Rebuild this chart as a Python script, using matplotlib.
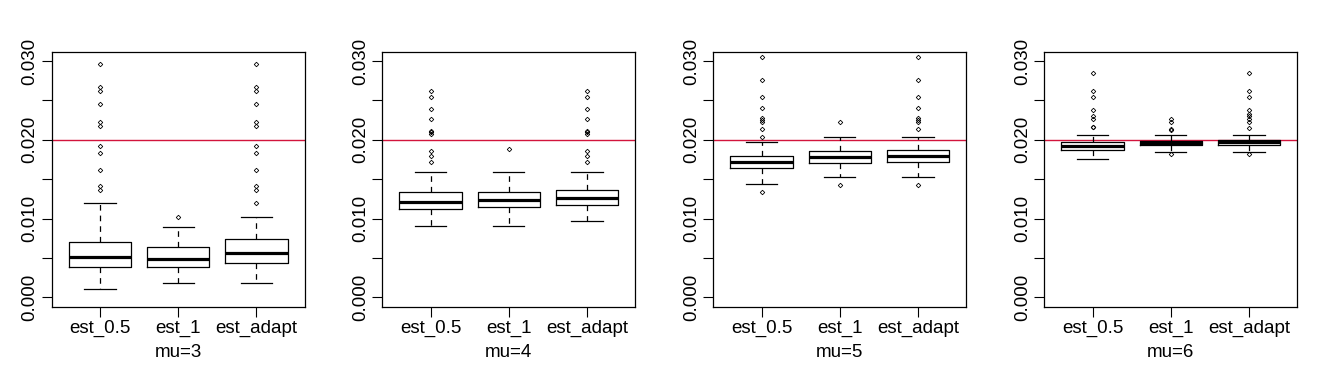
import matplotlib
matplotlib.use("Agg")
import matplotlib.pyplot as plt

plt.rcParams['font.family'] = ['Liberation Sans', 'DejaVu Sans']

groups = ["est_0.5", "est_1", "est_adapt"]
panels = ["mu=3", "mu=4", "mu=5", "mu=6"]

whislo = [[0.00102, 0.00187, 0.00187],
          [0.00909, 0.00900, 0.00973],
          [0.01436, 0.01530, 0.01530],
          [0.01763, 0.01845, 0.01845]]
q1 = [[0.00379, 0.00379, 0.00430],
      [0.01118, 0.01147, 0.01168],
      [0.01641, 0.01705, 0.01717],
      [0.01874, 0.01929, 0.01934]]
med = [[0.00506, 0.00481, 0.00561],
       [0.01207, 0.01232, 0.01262],
       [0.01717, 0.01781, 0.01794],
       [0.01921, 0.01960, 0.01976]]
q3 = [[0.00705, 0.00634, 0.00736],
      [0.01334, 0.01334, 0.01368],
      [0.01794, 0.01858, 0.01870],
      [0.01972, 0.01989, 0.01998]]
whishi = [[0.01195, 0.00888, 0.01016],
          [0.01590, 0.01590, 0.01590],
          [0.01972, 0.02036, 0.02036],
          [0.02062, 0.02062, 0.02062]]

fliers = [
    [[0.01364, 0.01415, 0.01619, 0.01832, 0.01925, 0.02180, 0.02222, 0.02457, 0.02618, 0.02674, 0.02958],
     [0.01024],
     [0.01195, 0.01364, 0.01415, 0.01619, 0.01832, 0.01925, 0.02180, 0.02222, 0.02457, 0.02618, 0.02674, 0.02958]],
    [[0.01721, 0.01789, 0.01853, 0.02080, 0.02095, 0.02108, 0.02266, 0.02393, 0.02546, 0.02627],
     [0.01878],
     [0.01721, 0.01789, 0.01853, 0.02080, 0.02095, 0.02108, 0.02266, 0.02393, 0.02546, 0.02627]],
    [[0.01343, 0.02036, 0.02142, 0.02222, 0.02248, 0.02278, 0.02406, 0.02541, 0.02763, 0.03047],
     [0.01423, 0.02222],
     [0.01423, 0.02142, 0.02222, 0.02248, 0.02278, 0.02406, 0.02541, 0.02763, 0.03047]],
    [[0.02159, 0.02165, 0.02266, 0.02299, 0.02384, 0.02546, 0.02618, 0.02847],
     [0.01823, 0.02120, 0.02135, 0.02231, 0.02266],
     [0.01823, 0.02151, 0.02231, 0.02266, 0.02299, 0.02333, 0.02384, 0.02546, 0.02618, 0.02847]],
]

ref_value = 0.02
yticks = [0.0, 0.005, 0.01, 0.015, 0.02, 0.025, 0.03]
ytick_labels = ["0.000", "", "0.010", "", "0.020", "", "0.030"]

W, H = 1324, 372
fig = plt.figure(figsize=(W / 100, H / 100), dpi=100)
lefts_px = [51.7, 382.3, 713.3, 1044.3]
ax_w_px = 253.0
top_px, bot_px = 51.7, 306.7
fs = 13.5

for p, left in enumerate(lefts_px):
    ax = fig.add_axes([left / W, (H - bot_px) / H, ax_w_px / W, (bot_px - top_px) / H])
    stats = []
    for g in range(3):
        stats.append(dict(whislo=whislo[p][g], q1=q1[p][g], med=med[p][g], q3=q3[p][g],
                          whishi=whishi[p][g], fliers=fliers[p][g], label=groups[g]))
    ax.bxp(stats, positions=[1, 2, 3], widths=0.8, showfliers=True, patch_artist=False,
           boxprops=dict(color='black', linewidth=0.9),
           medianprops=dict(color='black', linewidth=2.3, solid_capstyle='butt'),
           whiskerprops=dict(color='black', linewidth=0.9, linestyle=(0, (4.5, 4))),
           capprops=dict(color='black', linewidth=0.9),
           capwidths=0.4,
           flierprops=dict(marker='D', markersize=2.3, markerfacecolor='none',
                           markeredgecolor='black', markeredgewidth=0.6, linestyle='none'))
    ax.axhline(ref_value, color='#d2143c', linewidth=1.0, zorder=0.5)
    ax.set_xlim(0.38, 3.62)
    ax.set_ylim(-0.0012, 0.0312)
    ax.set_xticks([1, 2, 3])
    ax.set_xticklabels(groups, fontsize=fs)
    ax.set_yticks(yticks)
    ax.set_yticklabels(ytick_labels, fontsize=fs, rotation=90, va='center')
    ax.tick_params(axis='both', direction='out', length=7, width=0.8, color='black')
    ax.tick_params(axis='x', pad=2.5)
    ax.tick_params(axis='y', pad=2.5)
    ax.set_xlabel(panels[p], fontsize=fs, labelpad=5)
    for s in ax.spines.values():
        s.set_linewidth(0.9)
        s.set_color('black')

fig.savefig("out.png", dpi=100)
